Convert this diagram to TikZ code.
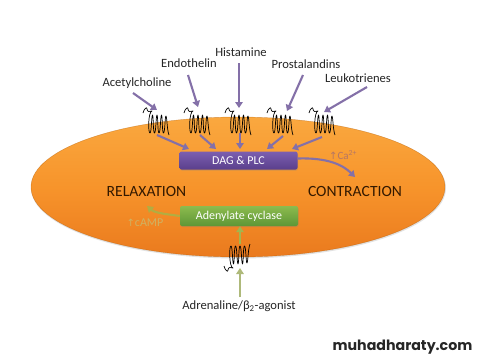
\documentclass[tikz,border=0pt]{standalone}
\usepackage{fontspec}
\setmainfont{Carlito}
\newfontfamily\symfont{DejaVu Sans}
\newfontfamily\brandfont{Poppins}
\usetikzlibrary{arrows.meta,shadows,calc}
\definecolor{gq}{HTML}{8470A8}
\definecolor{gs}{HTML}{AEB97A}
\definecolor{gsin}{HTML}{A3B54E}
\definecolor{camptext}{HTML}{CFB262}
\definecolor{celltop}{HTML}{FAA83F}
\definecolor{cellmid}{HTML}{F7942B}
\definecolor{cellbot}{HTML}{EA7A1E}
\definecolor{dagtop}{HTML}{7C5FB0}
\definecolor{dagbot}{HTML}{5A3F8C}
\definecolor{actop}{HTML}{8CBB4E}
\definecolor{acbot}{HTML}{5E9636}
\tikzset{
  x=1pt,y=-1pt,
  lab/.style={font=\fontsize{12.6}{14}\selectfont,text=black!85,inner sep=0pt},
  state/.style={font=\fontsize{15.6}{17}\selectfont,text=black!80!orange,inner sep=0pt},
  box/.style={rounded corners=2pt,minimum width=118pt,minimum height=18pt,inner sep=0pt,
    text=white,font=\fontsize{12}{14}\selectfont,drop shadow={shadow xshift=0.5pt,shadow yshift=-1pt,opacity=0.3}},
  qarrow/.style={draw=gq,line width=2.1pt,-{Triangle[length=6pt,width=7.5pt]}},
  garrow/.style={draw=gs,line width=2.1pt,-{Triangle[length=6pt,width=7.5pt]}},
  coil/.pic={
    % short tail outside the membrane, four passes through it, short tail inside
    \draw[line width=0.7pt,black,line join=round]
      (-16,-11) .. controls (-15,-15) and (-12,-18) .. (-12,-15)
      .. controls (-12,-12) and (-9,-12) .. (-7,-13)
      .. controls (-11,-12) and (-11,9) .. (-9,9)
      .. controls (-7.5,9) and (-7.5,-9) .. (-6.5,-9)
      .. controls (-5.5,-9) and (-6,9) .. (-4.5,9)
      .. controls (-3,9) and (-3,-9) .. (-2,-9)
      .. controls (-1,-9) and (-1.5,9) .. (0,9)
      .. controls (1.5,9) and (1.5,-9) .. (2.5,-9)
      .. controls (3.5,-9) and (3,9) .. (4.5,9)
      .. controls (6,9) and (6,-9) .. (7,-8)
      .. controls (8,-7) and (8,6) .. (10,11);
  }
}
\begin{document}
\begin{tikzpicture}
\useasboundingbox (0,0) rectangle (480,360);
\fill[white] (0,0) rectangle (480,360);

% cell body
\fill[black!45,opacity=0.25] (238.5,188) ellipse [x radius=207.5pt,y radius=70.5pt];
\shade[top color=celltop,bottom color=cellbot,middle color=cellmid]
  (238,187) ellipse [x radius=207pt,y radius=70pt];
\draw[draw=orange!70!black,line width=0.4pt,opacity=0.5] (238,187) ellipse [x radius=207pt,y radius=70pt];

% receptors in the membrane
\foreach \n/\x in {a/159,b/200,c/241,d/283,e/325}
  \pic at (\x,124) {coil};
\pic[yscale=-1] at (240,255) {coil};

% enzyme boxes
\node[box,top color=dagtop,bottom color=dagbot] (dag) at (238.5,160.5) {DAG \& PLC};
\node[box,top color=actop,bottom color=acbot,minimum height=20pt] (ac) at (239,216) {Adenylate cyclase};

% agonist labels
\node[lab] (ach) at (137,83) {Acetylcholine};
\node[lab] (et) at (189,63) {Endothelin};
\node[lab] (his) at (241,52) {Histamine};
\node[lab] (pg) at (306,64) {Prostalandins};
\node[lab] (lt) at (358,78) {Leukotrienes};
\node[lab] (adr) at (239,306.5) {Adrenaline/β\textsubscript{2}-agonist};

% state labels
\node[state] (rel) at (146.5,191.5) {RELAXATION};
\node[state] (con) at (355,191.5) {CONTRACTION};
\node[inner sep=0pt,text=gq!60!orange,font=\fontsize{11}{12}\selectfont] (ca) at (343,155) {{\symfont\fontsize{10}{11}\selectfont↑}Ca\textsuperscript{2+}};
\node[inner sep=0pt,text=camptext,font=\fontsize{12}{13}\selectfont] (camp) at (145,223) {{\symfont\fontsize{10}{11}\selectfont↑}cAMP};

% named ends of the connectors
\coordinate (a1) at (133,93);  \coordinate (a2) at (157,110);
\coordinate (b1) at (188,75);  \coordinate (b2) at (198,107);
\coordinate (c1) at (239,63);  \coordinate (c2) at (239,108);
\coordinate (d1) at (303,75);  \coordinate (d2) at (287,111);
\coordinate (e1) at (367,87);  \coordinate (e2) at (324,112);
\coordinate (f1) at (157,135); \coordinate (f2) at (189,149);
\coordinate (g1) at (200,135); \coordinate (g2) at (216,149);
\coordinate (h1) at (240,133); \coordinate (h2) at (240,149);
\coordinate (i1) at (283,136); \coordinate (i2) at (267,149);
\coordinate (j1) at (322,137); \coordinate (j2) at (292,149);
\coordinate (k2) at (355,177);
\coordinate (l2) at (147,206);
\coordinate (m1) at (240,244);
\coordinate (n1) at (240,297); \coordinate (n2) at (240,268);

% connectors from agonists to receptors and on to the enzymes
\foreach \p/\q in {a1/a2,b1/b2,c1/c2,d1/d2,e1/e2,f1/f2,g1/g2,h1/h2,i1/i2,j1/j2}
  \draw[qarrow] (\p) -- (\q);
\draw[qarrow] (dag.east) ++(0,-2) .. controls +(30,-1) and +(-12,-12) .. (k2);
\draw[garrow,draw=gsin!85!orange] (ac.west) .. controls +(-14,-2) and +(8,7) .. (l2);
\draw[garrow,draw=gsin] (m1) -- (ac.south -| m1);
\draw[garrow] (n1) -- (n2);

% site mark
\node[inner sep=0pt,text=black!85,font=\brandfont\bfseries\fontsize{14.2}{16}\selectfont] (brand) at (402.5,347) {muhadharaty.com};
\end{tikzpicture}
\end{document}
